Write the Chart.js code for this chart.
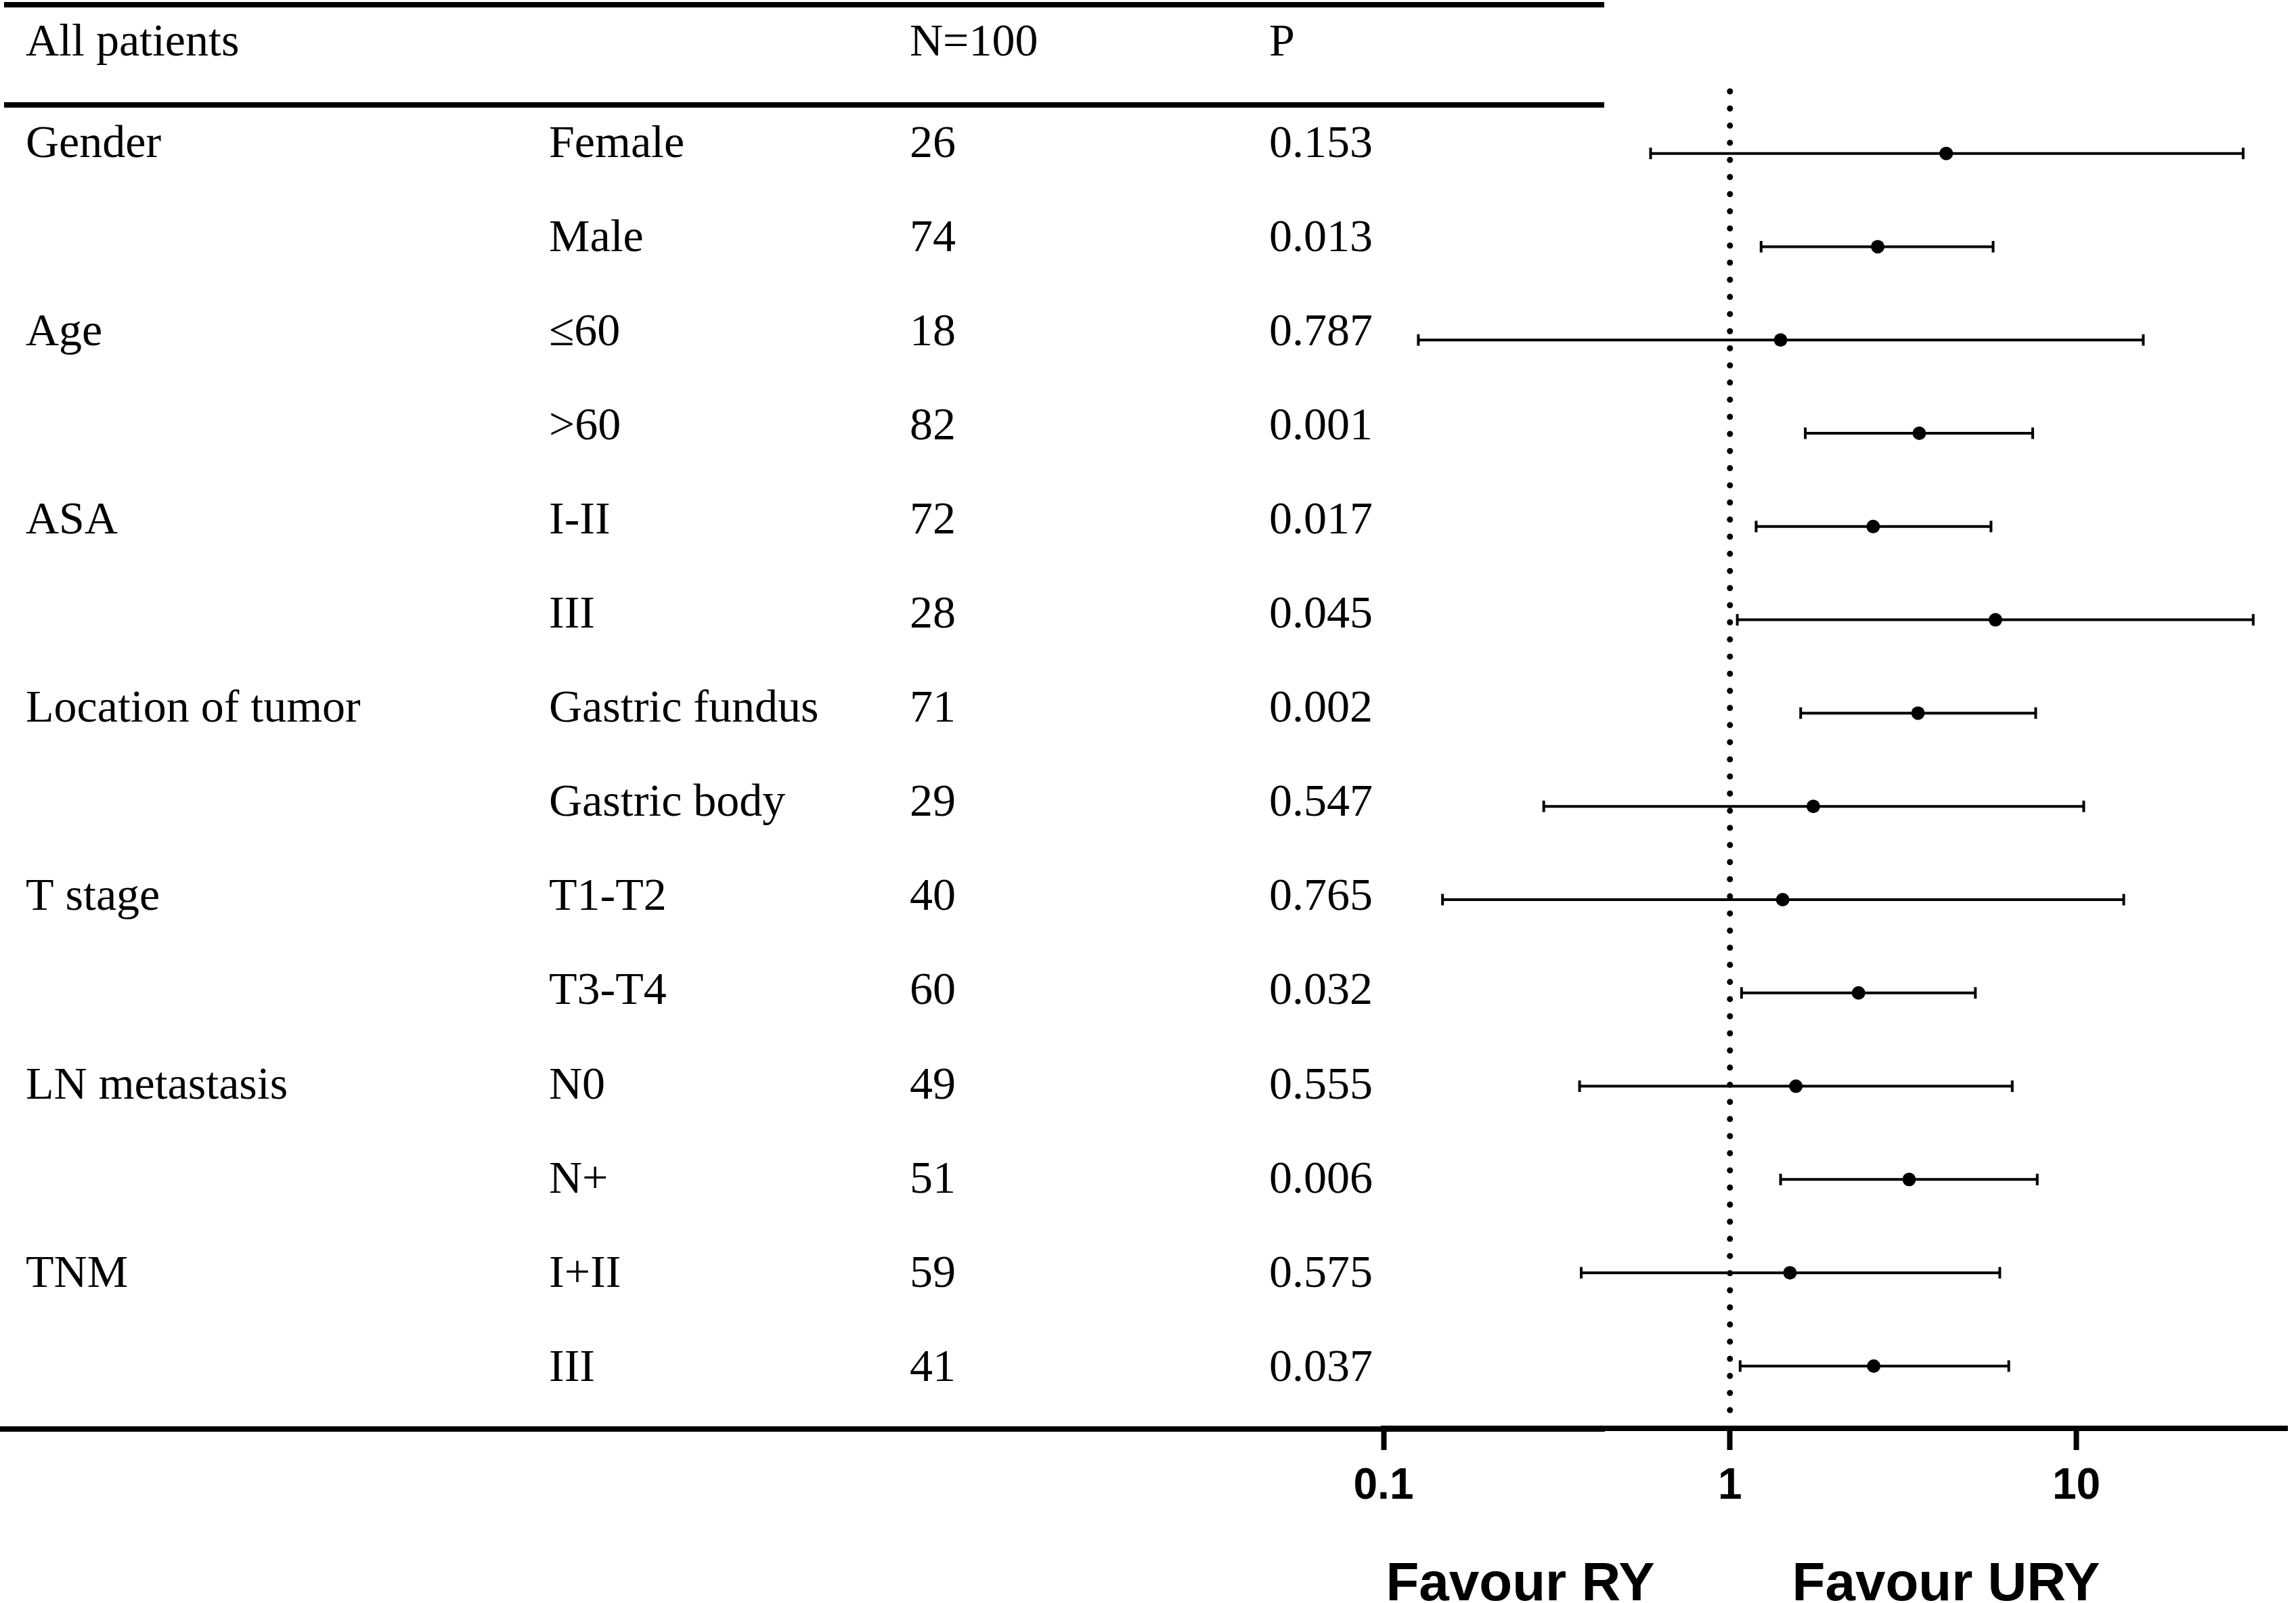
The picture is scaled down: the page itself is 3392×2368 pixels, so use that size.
<!DOCTYPE html>
<html>
<head>
<meta charset="utf-8">
<script src="https://cdn.jsdelivr.net/npm/chart.js"></script>
<style>
  html, body { margin: 0; padding: 0; background: #fff; }
  #wrap { width: 3392px; height: 2368px; position: relative; }
</style>
</head>
<body>
<div id="wrap"><canvas id="forestChart"></canvas></div>
<script>
  // table columns + estimates, one entry per row
  const groups = ['Gender', '', 'Age', '', 'ASA', '', 'Location of tumor', '', 'T stage', '', 'LN metastasis', '', 'TNM', ''];
  const subgroups = ['Female', 'Male', '≤60', '>60', 'I-II', 'III', 'Gastric fundus', 'Gastric body', 'T1-T2', 'T3-T4', 'N0', 'N+', 'I+II', 'III'];
  const nValues = [26, 74, 18, 82, 72, 28, 71, 29, 40, 60, 49, 51, 59, 41];
  const pValues = ['0.153', '0.013', '0.787', '0.001', '0.017', '0.045', '0.002', '0.547', '0.765', '0.032', '0.555', '0.006', '0.575', '0.037'];
  const orValues = [4.21, 2.67, 1.40, 3.52, 2.59, 5.84, 3.49, 1.74, 1.42, 2.35, 1.55, 3.29, 1.49, 2.60];
  const ciLower = [0.59, 1.23, 0.126, 1.65, 1.19, 1.05, 1.60, 0.290, 0.148, 1.08, 0.368, 1.40, 0.372, 1.07];
  const ciUpper = [30.3, 5.75, 15.6, 7.48, 5.67, 32.4, 7.63, 10.5, 13.7, 5.11, 6.53, 7.71, 6.01, 6.38];
  const xTicks = [0.1, 1, 10];

  const serif = '"Liberation Serif", "Times New Roman", serif';
  const sans = '"Liberation Sans", Arial, sans-serif';

  // left-hand table, rules and the favour labels
  const tablePlugin = {
    id: 'forestTable',
    afterDraw(chart) {
      const ctx = chart.ctx;
      const y = chart.scales.y;
      ctx.save();
      ctx.fillStyle = '#000';
      ctx.strokeStyle = '#000';
      ctx.lineWidth = 8;
      ctx.beginPath();
      ctx.moveTo(6, 7); ctx.lineTo(2370, 7);
      ctx.moveTo(6, 155); ctx.lineTo(2370, 155);
      ctx.moveTo(0, 2111); ctx.lineTo(2371, 2111);
      ctx.stroke();

      ctx.font = '68px ' + serif;
      ctx.textAlign = 'left';
      ctx.textBaseline = 'alphabetic';
      ctx.fillText('All patients', 38, 82);
      ctx.fillText('N=100', 1344, 82);
      ctx.fillText('P', 1875, 82);

      subgroups.forEach((s, i) => {
        const by = y.getPixelForValue(i) + 5 + i * 1.3;
        if (groups[i]) ctx.fillText(groups[i], 38, by);
        ctx.fillText(s, 811, by);
        ctx.fillText(String(nValues[i]), 1344, by);
        ctx.fillText(pValues[i], 1875, by);
      });

      ctx.font = 'bold 80px ' + sans;
      ctx.textAlign = 'center';
      ctx.fillText('Favour RY', 2246, 2364);
      ctx.fillText('Favour URY', 2875, 2364);
      ctx.restore();
    }
  };

  const ciSets = subgroups.map((s, i) => ({
    label: s,
    data: [{x: ciLower[i], y: i}, {x: ciUpper[i], y: i}],
    showLine: true,
    borderColor: '#000',
    borderWidth: 4,
    pointStyle: 'line',
    rotation: 90,
    pointRadius: 8.5,
    pointBorderWidth: 4,
    pointBorderColor: '#000',
    clip: false
  }));

  new Chart(document.getElementById('forestChart'), {
    type: 'scatter',
    data: {
      datasets: [
        {
          label: 'OR',
          data: orValues.map((v, i) => ({x: v, y: i})),
          pointRadius: 10,
          pointBackgroundColor: '#000',
          pointBorderWidth: 0,
          clip: false
        },
        ...ciSets,
        {
          label: 'ref',
          data: [{x: 1, y: -0.665}, {x: 1, y: 13.52}],
          showLine: true,
          borderColor: '#000',
          borderWidth: 9,
          borderDash: [0, 25.3],
          borderCapStyle: 'round',
          pointRadius: 0,
          clip: false
        }
      ]
    },
    options: {
      responsive: true,
      maintainAspectRatio: false,
      devicePixelRatio: 1,
      animation: false,
      events: [],
      layout: {
        padding: {left: 2044, right: 4, top: 135, bottom: 0}
      },
      plugins: {
        legend: {display: false},
        tooltip: {enabled: false}
      },
      scales: {
        x: {
          type: 'logarithmic',
          min: 0.1,
          max: 40.7,
          afterBuildTicks: (axis) => {
            axis.ticks = xTicks.map(v => ({value: v}));
          },
          afterFit: (axis) => {
            axis.height = 258;
          },
          grid: {
            drawOnChartArea: false,
            tickLength: 32,
            tickWidth: 8,
            tickColor: '#000'
          },
          border: {
            display: true,
            width: 8,
            color: '#000'
          },
          ticks: {
            padding: 16,
            color: '#000',
            maxRotation: 0,
            autoSkip: false,
            font: {
              family: sans,
              size: 64,
              weight: 'bold'
            },
            callback: (v) => String(v)
          }
        },
        y: {
          type: 'linear',
          display: false,
          reverse: true,
          min: -0.665,
          max: 13.668
        }
      }
    },
    plugins: [tablePlugin]
  });
</script>
</body>
</html>
